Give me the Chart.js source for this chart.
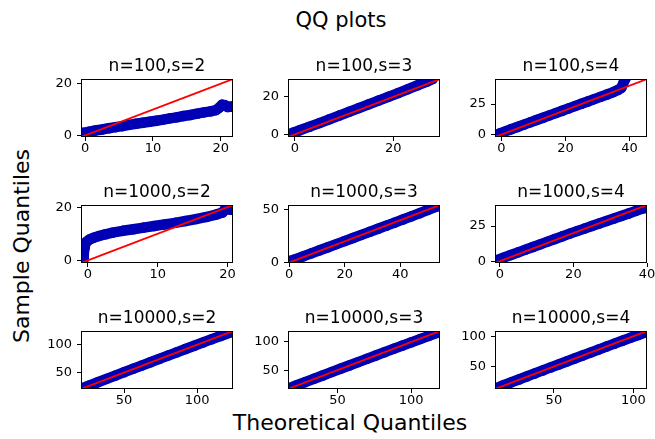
<!DOCTYPE html>
<html>
<head>
<meta charset="utf-8">
<script src="https://cdn.jsdelivr.net/npm/chart.js@4.4.0/dist/chart.umd.min.js"></script>
<style>
  html, body { margin: 0; padding: 0; background: #fff; }
  body { width: 655px; height: 439px; position: relative; overflow: hidden; font-family: "DejaVu Sans", sans-serif; color: #000; }
  .painel { position: absolute; width: 218px; height: 110px; }
  .rotulo { position: absolute; white-space: nowrap; line-height: 1; }
  #supTitulo { left: 341px; top: 19.5px; font-size: 21px; transform: translate(-50%, -50%); }
  #rotuloX { left: 350px; top: 422.5px; font-size: 22px; transform: translate(-50%, -50%); }
  #rotuloY { left: 22px; top: 246px; font-size: 22px; transform: translate(-50%, -50%) rotate(-90deg); }
</style>
</head>
<body>
<div class="rotulo" id="supTitulo">QQ plots</div>
<div class="rotulo" id="rotuloY">Sample Quantiles</div>
<div class="rotulo" id="rotuloX">Theoretical Quantiles</div>
<script>
// titulos dos paineis (linha a linha)
const titulos = ["n=100,s=2", "n=100,s=3", "n=100,s=4",
  "n=1000,s=2", "n=1000,s=3", "n=1000,s=4",
  "n=10000,s=2", "n=10000,s=3", "n=10000,s=4"];

// n=100
const x100s2 = [-0.3, 0.5, 1.5, 2.5, 3.5, 4.5, 5.5, 6.5, 7.5, 8.5, 9.5, 10.5, 11.5, 12.5, 13.5, 14.5, 15.5, 16.5, 17.5, 18.5, 19.3, 19.8, 20.2, 20.6, 21.0, 21.6];
const y100s2 = [1.0, 1.4, 1.9, 2.3, 2.8, 3.2, 3.6, 4.1, 4.5, 4.9, 5.3, 5.7, 6.1, 6.6, 7.0, 7.5, 7.9, 8.4, 8.9, 9.3, 9.8, 10.8, 11.9, 11.7, 11.0, 11.2];
const x100s3 = [-0.5, 1, 3, 5, 7, 9, 11, 13, 15, 17, 19, 21, 23, 25, 27, 28];
const y100s3 = [0.8, 2.2, 4.1, 6.0, 8.0, 10.0, 12.0, 14.0, 16.0, 18.0, 20.0, 22.0, 24.1, 26.2, 28.3, 29.5];
const x100s4 = [-0.5, 1, 3, 5, 7, 9, 11, 13, 15, 17, 19, 21, 23, 25, 27, 29, 31, 33, 35, 36.5, 37.5, 38, 38.5, 39];
const y100s4 = [1.0, 2.4, 4.3, 6.2, 8.1, 10.0, 11.9, 13.8, 15.7, 17.6, 19.5, 21.4, 23.3, 25.2, 27.1, 29.0, 30.9, 32.8, 34.8, 36.6, 38.3, 41.5, 44.5, 47];

// n=1000
const x1000s2 = [-0.6, -0.6, -0.5, -0.4, -0.2, 0.2, 0.8, 1.5, 2.5, 3.5, 5, 6.5, 8, 9.5, 11, 12.5, 14, 15.5, 17, 18.5, 19.3, 19.7, 20.1, 20.6];
const y1000s2 = [0.5, 2.5, 4.5, 6.0, 7.0, 7.8, 8.5, 9.1, 9.8, 10.4, 11.1, 11.7, 12.3, 12.9, 13.5, 14.1, 14.8, 15.5, 16.3, 17.3, 18.0, 19.4, 19.2, 19.0];
const x1000s3 = [0.3, 2, 5, 8, 11, 14, 17, 20, 23, 26, 29, 32, 35, 38, 41, 44, 47, 50, 53, 55];
const y1000s3 = [1.5, 3.0, 5.8, 8.7, 11.6, 14.5, 17.4, 20.3, 23.2, 26.1, 29.0, 31.9, 34.8, 37.7, 40.7, 43.6, 46.6, 49.7, 52.8, 55];
const x1000s4 = [-0.6, 1, 3, 5, 7, 9, 11, 13, 15, 17, 19, 21, 23, 25, 27, 29, 31, 33, 35, 37, 39, 40];
const y1000s4 = [0.9, 2.5, 4.4, 6.3, 8.2, 10.1, 12.0, 13.9, 15.8, 17.7, 19.6, 21.4, 23.2, 25.0, 26.8, 28.6, 30.4, 32.2, 34.0, 35.8, 37.6, 38.4];

// n=10000
const x10000s2 = [21, 26, 32, 38, 44, 50, 56, 62, 68, 74, 80, 86, 92, 98, 104, 110, 116, 122, 126];
const y10000s2 = [21.5, 26.6, 32.6, 38.6, 44.6, 50.6, 56.6, 62.5, 68.5, 74.4, 80.4, 86.3, 92.2, 98.1, 104, 109.8, 115.6, 121.4, 125];
const x10000s3 = [17, 22, 28, 34, 40, 46, 52, 58, 64, 70, 76, 82, 88, 94, 100, 106, 112, 117];
const y10000s3 = [17.8, 22.7, 28.6, 34.6, 40.5, 46.5, 52.4, 58.3, 64.2, 70.1, 76, 81.9, 87.8, 93.6, 99.4, 105.1, 110.8, 115.8];
const x10000s4 = [13.5, 18, 23, 28, 33, 38, 43, 48, 53, 58, 63, 68, 73, 78, 83, 88, 93, 98, 103, 107];
const y10000s4 = [14.3, 18.8, 23.8, 28.7, 33.7, 38.6, 43.6, 48.5, 53.4, 58.3, 63.2, 68.1, 73, 77.9, 82.8, 87.6, 92.4, 97.2, 102, 105.8];

// limites (iguais nos dois eixos, linha de 45 graus vai de canto a canto)
const limites = [[-0.6, 21.8], [-1.4, 29.5], [-2, 45.5],
  [-1.0, 20.8], [-0.4, 54.3], [-1.3, 40.0],
  [20.5, 124.5], [16.5, 119.5], [13, 108.5]];

const ticksX = [[0, 10, 20], [0, 20], [0, 20, 40],
  [0, 10, 20], [0, 20, 40], [0, 20, 40],
  [50, 100], [50, 100], [50, 100]];
const ticksY = [[0, 20], [0, 20], [0, 25],
  [0, 20], [0, 50], [0, 25],
  [50, 100], [50, 100], [50, 100]];

const amostrasX = [x100s2, x100s3, x100s4, x1000s2, x1000s3, x1000s4, x10000s2, x10000s3, x10000s4];
const amostrasY = [y100s2, y100s3, y100s4, y1000s2, y1000s3, y1000s4, y10000s2, y10000s3, y10000s4];

const colunas = [81, 288, 495];
const linhas = [79, 205, 331];
const azul = "#0000b4";
const fonte = "DejaVu Sans";

// caixa preta em volta da area do grafico (como no matplotlib)
const moldura = {
  id: "moldura",
  afterDraw(chart) {
    const { ctx, chartArea: a } = chart;
    ctx.save();
    ctx.strokeStyle = "#000";
    ctx.lineWidth = 1;
    ctx.strokeRect(a.left + 0.5, a.top + 0.5, a.width - 1, a.height - 1);
    ctx.restore();
  },
};

function criarPainel(i) {
  const div = document.createElement("div");
  div.className = "painel";
  div.style.left = (colunas[i % 3] - 50) + "px";
  div.style.top = (linhas[Math.floor(i / 3)] - 28) + "px";
  const canvas = document.createElement("canvas");
  canvas.width = 218;
  canvas.height = 110;
  div.appendChild(canvas);
  document.body.appendChild(div);

  const lim = limites[i];
  const pontos = amostrasX[i].map((x, k) => ({ x: x, y: amostrasY[i][k] }));

  const eixo = (ticks, tamanho, pad) => ({
    type: "linear",
    min: lim[0],
    max: lim[1],
    afterBuildTicks: (s) => { s.ticks = ticks.map((v) => ({ value: v })); },
    grid: { drawOnChartArea: false, tickLength: 4, color: "#000", lineWidth: 1 },
    border: { display: false },
    ticks: { padding: pad, maxRotation: 0, autoSkip: false, color: "#000", font: { family: fonte, size: 13 } },
    ...tamanho,
  });

  new Chart(canvas, {
    type: "scatter",
    data: {
      datasets: [
        {
          data: [{ x: lim[0], y: lim[0] }, { x: lim[1], y: lim[1] }],
          showLine: true,
          borderColor: "#ff0000",
          borderWidth: 1.8,
          pointRadius: 0,
          clip: 0,
        },
        {
          data: pontos,
          showLine: true,
          borderColor: azul,
          borderWidth: 10.5,
          borderCapStyle: "round",
          borderJoinStyle: "round",
          pointRadius: 5.25,
          pointBackgroundColor: azul,
          pointBorderWidth: 0,
          clip: 0,
        },
      ],
    },
    options: {
      responsive: false,
      animation: false,
      events: [],
      layout: { padding: { left: 0, right: 16, top: 5.6, bottom: 0 } },
      plugins: {
        legend: { display: false },
        tooltip: { enabled: false },
        title: {
          display: true,
          text: titulos[i],
          fullSize: false,
          color: "#000",
          font: { family: fonte, size: 17, weight: "normal" },
          padding: { top: 0, bottom: 2 },
        },
      },
      scales: {
        x: eixo(ticksX[i], { afterFit: (s) => { s.height = 24; } }, 0),
        y: eixo(ticksY[i], { afterFit: (s) => { s.width = 50; } }, 5),
      },
    },
    plugins: [moldura],
  });
}

for (let i = 0; i < 9; i++) criarPainel(i);
</script>
</body>
</html>
